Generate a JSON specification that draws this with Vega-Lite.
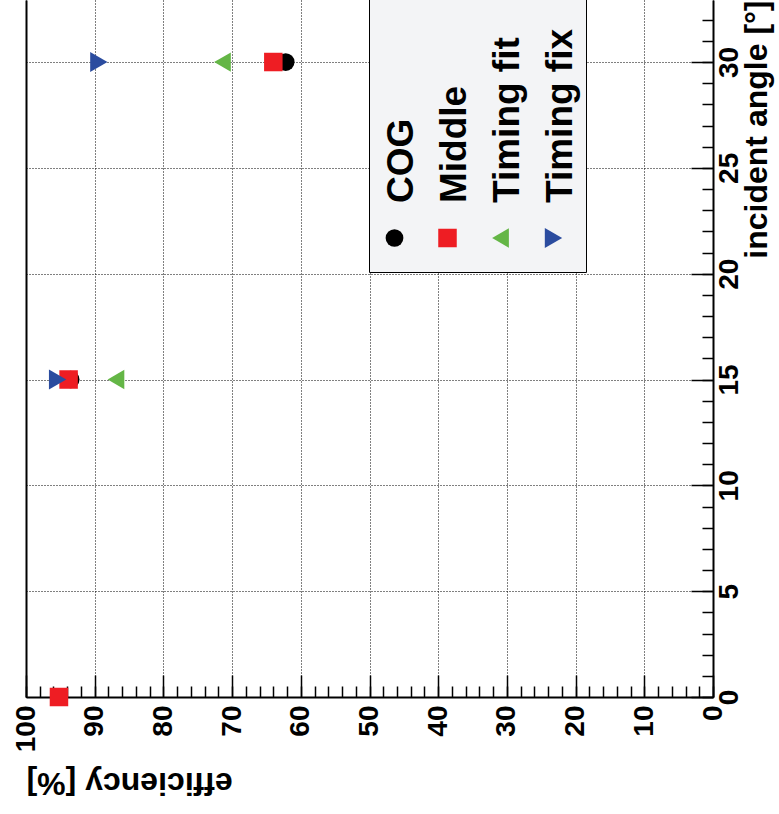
{
  "$schema": "https://vega.github.io/schema/vega-lite/v6.json",
  "width": 687,
  "height": 697,
  "autosize": "none",
  "padding": {"left": 26, "top": 0, "right": 66, "bottom": 117},
  "background": "white",
  "config": {
    "view": {"stroke": null},
    "font": "Liberation Sans",
    "style": {"guide-label": {"angle": -90, "dx": 35}}
  },
  "data": {
    "values": [
      {"series": "COG", "angle": 0, "efficiency": 95.2},
      {"series": "COG", "angle": 15, "efficiency": 93.5},
      {"series": "COG", "angle": 30, "efficiency": 62.2},
      {"series": "Middle", "angle": 0, "efficiency": 95.2},
      {"series": "Middle", "angle": 15, "efficiency": 93.8},
      {"series": "Middle", "angle": 30, "efficiency": 64.0},
      {"series": "Timing fit", "angle": 15, "efficiency": 86.9},
      {"series": "Timing fit", "angle": 30, "efficiency": 71.4},
      {"series": "Timing fix", "angle": 15, "efficiency": 95.4},
      {"series": "Timing fix", "angle": 30, "efficiency": 89.4}
    ]
  },
  "layer": [
    {
      "mark": {"type": "point", "opacity": 0},
      "encoding": {
        "x": {
          "field": "efficiency", "type": "quantitative",
          "scale": {"domain": [0, 100], "reverse": true, "nice": false, "zero": false},
          "axis": {
            "orient": "bottom",
            "values": [0, 2, 4, 6, 8, 10, 12, 14, 16, 18, 20, 22, 24, 26, 28, 30, 32, 34, 36, 38, 40, 42, 44, 46, 48, 50, 52, 54, 56, 58, 60, 62, 64, 66, 68, 70, 72, 74, 76, 78, 80, 82, 84, 86, 88, 90, 92, 94, 96, 98, 100],
            "labels": false, "title": null, "grid": false, "domain": false,
            "tickSize": -11, "tickWidth": 1.5, "tickColor": "#000000"
          }
        },
        "y": {
          "field": "angle", "type": "quantitative",
          "scale": {"domain": [0, 32.93], "nice": false, "zero": false},
          "axis": {
            "orient": "right",
            "values": [0, 1, 2, 3, 4, 5, 6, 7, 8, 9, 10, 11, 12, 13, 14, 15, 16, 17, 18, 19, 20, 21, 22, 23, 24, 25, 26, 27, 28, 29, 30, 31, 32],
            "labels": false, "title": null, "grid": false, "domain": false,
            "tickSize": -11, "tickWidth": 1.5, "tickColor": "#000000"
          }
        }
      }
    },
    {
      "mark": {"type": "point", "opacity": 0},
      "encoding": {
        "x": {
          "field": "efficiency", "type": "quantitative",
          "scale": {"domain": [0, 100], "reverse": true, "nice": false, "zero": false},
          "axis": null
        },
        "y": {
          "field": "angle", "type": "quantitative",
          "scale": {"domain": [0, 32.93], "nice": false, "zero": false},
          "axis": {
            "orient": "left", "labels": false, "ticks": false, "grid": false, "title": null,
            "domain": true, "domainColor": "#000000", "domainWidth": 2
          }
        }
      }
    },
    {
      "mark": {"type": "point", "filled": true, "opacity": 1, "strokeWidth": 0},
      "encoding": {
        "x": {
          "field": "efficiency", "type": "quantitative",
          "scale": {"domain": [0, 100], "reverse": true, "nice": false, "zero": false},
          "axis": {
            "orient": "bottom",
            "values": [0, 10, 20, 30, 40, 50, 60, 70, 80, 90, 100],
            "format": "d",
            "title": "efficiency [%]",
            "grid": true, "gridDash": [1, 2], "gridColor": "#000000", "gridWidth": 1, "gridOpacity": 1,
            "domain": true, "domainColor": "#000000", "domainWidth": 2,
            "tickSize": -22, "tickWidth": 1.5, "tickColor": "#000000",
            "labelAngle": -90, "labelAlign": "right", "labelBaseline": "middle",
            "labelFont": "Liberation Sans", "labelFontWeight": "bold", "labelFontSize": 28,
            "labelColor": "#000000", "labelPadding": 65, "labelFlush": false, "labelOverlap": false,
            "titleFont": "Liberation Sans", "titleFontWeight": "bold", "titleFontSize": 32,
            "titleColor": "#000000", "titleAngle": 180, "titleAnchor": "end",
            "titleAlign": "right", "titleBaseline": "bottom", "titlePadding": 14
          }
        },
        "y": {
          "field": "angle", "type": "quantitative",
          "scale": {"domain": [0, 32.93], "nice": false, "zero": false},
          "axis": {
            "orient": "right",
            "values": [0, 5, 10, 15, 20, 25, 30],
            "format": "d",
            "title": "incident angle [°]",
            "grid": true, "gridDash": [1, 2], "gridColor": "#000000", "gridWidth": 1, "gridOpacity": 1,
            "domain": true, "domainColor": "#000000", "domainWidth": 2,
            "tickSize": -22, "tickWidth": 1.5, "tickColor": "#000000",
            "labelAngle": -90, "labelAlign": "center", "labelBaseline": "top",
            "labelFont": "Liberation Sans", "labelFontWeight": "bold", "labelFontSize": 28,
            "labelColor": "#000000", "labelPadding": 24, "labelOffset": 35,
            "labelFlush": false, "labelOverlap": false,
            "titleFont": "Liberation Sans", "titleFontWeight": "bold", "titleFontSize": 32,
            "titleColor": "#000000", "titleAngle": -90, "titleAnchor": "end",
            "titleAlign": "right", "titleBaseline": "top", "titlePadding": -2
          }
        },
        "color": {
          "field": "series", "type": "nominal",
          "scale": {
            "domain": ["COG", "Middle", "Timing fit", "Timing fix"],
            "range": ["#000000", "#ee1d23", "#64b646", "#2b4c9f"]
          },
          "legend": {
            "orient": "none", "legendX": 343, "legendY": -5,
            "direction": "horizontal", "columns": 4, "columnPadding": 8,
            "fillColor": "#f3f4f6", "strokeColor": "#000000", "padding": 7,
            "title": " ", "titleOrient": "top", "titleFontSize": 180, "titlePadding": 29,
            "clipHeight": 54,
            "labelFont": "Liberation Sans", "labelFontWeight": "bold", "labelFontSize": 37,
            "labelColor": "#000000", "labelLimit": 0, "labelOffset": -11,
            "labelAlign": "left", "labelBaseline": "middle",
            "symbolSize": 380, "symbolStrokeWidth": 0
          }
        },
        "shape": {
          "field": "series", "type": "nominal",
          "scale": {
            "domain": ["COG", "Middle", "Timing fit", "Timing fix"],
            "range": ["circle", "square", "triangle-left", "triangle-right"]
          }
        },
        "size": {
          "field": "series", "type": "nominal",
          "scale": {
            "domain": ["COG", "Middle", "Timing fit", "Timing fix"],
            "range": [314, 400, 400, 400]
          },
          "legend": null
        }
      }
    }
  ],
  "resolve": {"axis": {"x": "independent", "y": "independent"}}
}
